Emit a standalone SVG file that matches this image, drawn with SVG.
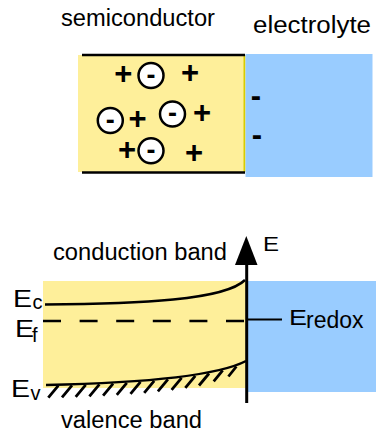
<svg xmlns="http://www.w3.org/2000/svg" width="378" height="433" viewBox="0 0 378 433">
  <defs>
    <style>
      .t { font-family: "Liberation Sans", Arial, sans-serif; fill: #000; }
      .lbl { font-size: 23px; }
      .sub { font-size: 20px; }
      .sym { font-family: "Liberation Sans", Arial, sans-serif; font-weight: bold; text-anchor: middle; fill: #000; }
      .plus { font-size: 31px; }
      .minus { font-size: 27px; }
      .ion { fill: #fff; stroke: #000; stroke-width: 2.5; }
      .semi { fill: #FEEF9A; }
      .elec { fill: #99CCFF; }
      .ln { fill: none; stroke: #000; stroke-width: 2.5; }
    </style>
  </defs>
  <rect width="378" height="433" fill="#fff"/>

  <!-- top: charge distribution -->
  <g id="top-semiconductor">
    <rect class="semi" x="78" y="55" width="167" height="117"/>
    <line x1="244.5" y1="55" x2="244.5" y2="172" stroke="#D9CC00" stroke-width="2"/>
    <line class="ln" x1="82" y1="55" x2="245" y2="55"/>
    <line class="ln" x1="82" y1="172.5" x2="245" y2="172.5"/>
  </g>
  <g id="top-electrolyte">
    <rect class="elec" x="245.5" y="54" width="127" height="123"/>
  </g>
  <g id="charges">
    <text class="sym plus" x="123.3" y="83.8">+</text>
    <text class="sym plus" x="190" y="83">+</text>
    <text class="sym plus" x="137.5" y="129">+</text>
    <text class="sym plus" x="202" y="122.5">+</text>
    <text class="sym plus" x="127" y="159.5">+</text>
    <text class="sym plus" x="194" y="162.5">+</text>
    <circle class="ion" cx="151" cy="75.5" r="12.5"/>
    <text class="sym minus" x="151" y="83.5">-</text>
    <circle class="ion" cx="110.3" cy="120.5" r="12.5"/>
    <text class="sym minus" x="110.3" y="129">-</text>
    <circle class="ion" cx="172.5" cy="114" r="12.5"/>
    <text class="sym minus" x="172.5" y="122">-</text>
    <circle class="ion" cx="151" cy="150.7" r="12.5"/>
    <text class="sym minus" x="151" y="159">-</text>
    <text class="sym" style="font-size:31px" x="256" y="106">-</text>
    <text class="sym" style="font-size:31px" x="257" y="145">-</text>
  </g>
  <g id="top-labels">
    <text class="t lbl" x="61" y="26" textLength="154" lengthAdjust="spacingAndGlyphs">semiconductor</text>
    <text class="t lbl" x="253" y="33" textLength="118" lengthAdjust="spacingAndGlyphs">electrolyte</text>
  </g>

  <!-- bottom: band diagram -->
  <g id="band-semiconductor">
    <rect class="semi" x="43" y="281" width="203" height="107"/>
  </g>
  <g id="band-electrolyte">
    <rect class="elec" x="247" y="281" width="129" height="111"/>
  </g>
  <g id="bands">
    <path class="ln" d="M45,304.5 C140,304 225,300 245,280"/>
    <line x1="43" y1="321" x2="245" y2="321" stroke="#000" stroke-width="2.5" stroke-dasharray="18 18.6"/>
    <path class="ln" d="M46,385 C140,383 215,377 246,361"/>
    <path fill="none" stroke="#000" stroke-width="2.8" d="M58.3,385.7 l-10,12 M72,385.3 l-10,12 M85.7,384.8 l-10,12 M99.4,384.3 l-10,12 M113.1,383.6 l-10,12 M126.8,382.8 l-10,12 M140.5,381.8 l-10,12 M154.2,380.8 l-10,12 M167.9,379.4 l-10,12 M181.6,377.8 l-10,12 M195.3,375.9 l-10,12 M209,373.5 l-10,12 M222.7,370.4 l-9,11 M236.4,366.5 l-8,10"/>
  </g>
  <g id="axis">
    <line x1="246.7" y1="262" x2="246.7" y2="403" stroke="#000" stroke-width="3"/>
    <polygon points="246.3,236 235,265 257.5,265" fill="#000"/>
    <text class="t" style="font-size:20px" x="263" y="251" textLength="16" lengthAdjust="spacingAndGlyphs">E</text>
  </g>
  <g id="redox">
    <line x1="248" y1="319.5" x2="282" y2="319.5" stroke="#000" stroke-width="2"/>
    <text class="t" style="font-size:22px" x="289" y="325" textLength="18" lengthAdjust="spacingAndGlyphs">E</text>
    <text class="t lbl" x="306" y="327.5">redox</text>
  </g>
  <g id="band-labels">
    <text class="t lbl" x="13" y="307" textLength="19" lengthAdjust="spacingAndGlyphs">E</text>
    <text class="t sub" x="32.5" y="309">c</text>
    <text class="t lbl" x="15" y="336.5" textLength="19" lengthAdjust="spacingAndGlyphs">E</text>
    <text class="t sub" x="32" y="341.5">f</text>
    <text class="t lbl" x="11" y="397" textLength="19" lengthAdjust="spacingAndGlyphs">E</text>
    <text class="t sub" x="30.5" y="400">v</text>
    <text class="t lbl" x="53" y="259.5" textLength="174" lengthAdjust="spacingAndGlyphs">conduction band</text>
    <text class="t lbl" x="61" y="428" textLength="141" lengthAdjust="spacingAndGlyphs">valence band</text>
  </g>
</svg>
